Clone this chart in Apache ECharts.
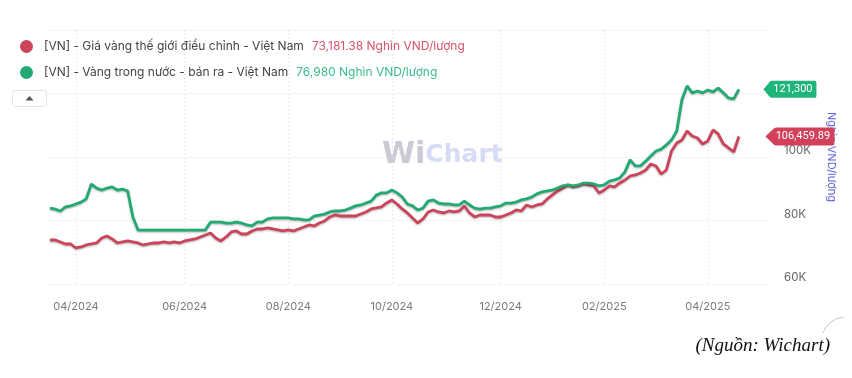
<!DOCTYPE html>
<html>
<head>
<meta charset="utf-8">
<script src="https://cdn.jsdelivr.net/npm/echarts@6/dist/echarts.min.js"></script>
<style>
  html, body { margin: 0; padding: 0; background: #fff; }
  #chart { width: 852px; height: 378px; }
</style>
</head>
<body>
<div id="chart"></div>
<script>
// one point every 3 days
const dates = [
  '2024-03-17','2024-03-20','2024-03-23','2024-03-26','2024-03-29','2024-04-01','2024-04-04','2024-04-07','2024-04-10','2024-04-13',
  '2024-04-16','2024-04-19','2024-04-22','2024-04-25','2024-04-28','2024-05-01','2024-05-04','2024-05-07','2024-05-10','2024-05-13',
  '2024-05-16','2024-05-19','2024-05-22','2024-05-25','2024-05-28','2024-05-31','2024-06-03','2024-06-06','2024-06-09','2024-06-12',
  '2024-06-15','2024-06-18','2024-06-21','2024-06-24','2024-06-27','2024-06-30','2024-07-03','2024-07-06','2024-07-09','2024-07-12',
  '2024-07-15','2024-07-18','2024-07-21','2024-07-24','2024-07-27','2024-07-30','2024-08-02','2024-08-05','2024-08-08','2024-08-11',
  '2024-08-14','2024-08-17','2024-08-20','2024-08-23','2024-08-26','2024-08-29','2024-09-01','2024-09-04','2024-09-07','2024-09-10',
  '2024-09-13','2024-09-16','2024-09-19','2024-09-22','2024-09-25','2024-09-28','2024-10-01','2024-10-04','2024-10-07','2024-10-10',
  '2024-10-13','2024-10-16','2024-10-19','2024-10-22','2024-10-25','2024-10-28','2024-10-31','2024-11-03','2024-11-06','2024-11-09',
  '2024-11-12','2024-11-15','2024-11-18','2024-11-21','2024-11-24','2024-11-27','2024-11-30','2024-12-03','2024-12-06','2024-12-09',
  '2024-12-12','2024-12-15','2024-12-18','2024-12-21','2024-12-24','2024-12-27','2024-12-30','2025-01-02','2025-01-05','2025-01-08',
  '2025-01-11','2025-01-14','2025-01-17','2025-01-20','2025-01-23','2025-01-26','2025-01-29','2025-02-01','2025-02-04','2025-02-07',
  '2025-02-10','2025-02-13','2025-02-16','2025-02-19','2025-02-22','2025-02-25','2025-02-28','2025-03-03','2025-03-06','2025-03-09',
  '2025-03-12','2025-03-15','2025-03-18','2025-03-21','2025-03-24','2025-03-27','2025-03-30','2025-04-02','2025-04-05','2025-04-08',
  '2025-04-11','2025-04-14','2025-04-17','2025-04-20','2025-04-23','2025-04-26','2025-04-29','2025-05-02','2025-05-05','2025-05-08'
];

// dates that carry an axis label / vertical grid line
const tickDates = ['2024-04-01', '2024-06-03', '2024-08-02', '2024-10-01', '2024-12-03', '2025-02-01', '2025-04-02'];

const worldName = '[VN] - Giá vàng thế giới điều chỉnh - Việt Nam';
const domesticName = '[VN] - Vàng trong nước - bán ra - Việt Nam';
const unit = 'Nghìn VND/lượng';
const legendValues = ['73,181.38', '76,980'];

const worldPrice = [
  73860, 73860, 73230, 72600, 72600, 71340, 71660, 72290, 72600, 72920,
  74490, 75120, 74180, 72920, 73230, 73550, 73230, 72920, 72290, 72600,
  72920, 72920, 73230, 72920, 73230, 72920, 73550, 73860, 74180, 74810,
  75440, 76070, 74490, 73550, 74810, 76380, 76700, 75750, 75750, 76700,
  77330, 77330, 77640, 77330, 77010, 76700, 77010, 76700, 77330, 77960,
  78590, 78270, 79220, 79850, 81110, 81740, 81420, 81420, 81420, 81420,
  82050, 82680, 83630, 83940, 84260, 85520, 86460, 85200, 83630, 82370,
  80790, 79220, 80480, 82680, 83310, 82680, 82370, 83000, 82680, 83000,
  84570, 82370, 81110, 81740, 81740, 81740, 81110, 81110, 81740, 82370,
  83310, 83000, 84890, 84260, 84890, 85200, 86780, 88040, 89300, 90240,
  91190, 90560, 90870, 91500, 91190, 90870, 88670, 89610, 90870, 90560,
  91820, 92760, 94020, 94340, 94970, 95910, 97800, 97170, 94650, 95910,
  101900, 104420, 105360, 108200, 106620, 105990, 104100, 105050, 108510, 107250,
  104100, 102840, 101580, 106459.89
];

const domesticPrice = [
  83900, 83600, 83000, 84300, 84600, 85200, 85800, 86800, 91500, 90200,
  89600, 90200, 90600, 89600, 89900, 89300, 81100, 77000, 76980, 76980,
  76980, 76980, 76980, 76980, 76980, 76980, 76980, 76980, 76980, 76980,
  76980, 79500, 79500, 79500, 79200, 79200, 79500, 79200, 78600, 78300,
  79500, 79500, 80500, 80800, 80800, 80800, 80800, 80500, 80500, 80200,
  80200, 81400, 81700, 82000, 82700, 83000, 83000, 83300, 83900, 84600,
  84900, 85500, 86100, 88000, 88700, 88700, 89600, 88700, 87400, 85200,
  84600, 83300, 83900, 86100, 86500, 85500, 85200, 85200, 84900, 84900,
  86100, 84900, 83900, 83600, 83900, 83900, 84300, 84600, 85500, 85500,
  85800, 86500, 86800, 87400, 88400, 89000, 89300, 89600, 90200, 90900,
  91200, 90900, 91200, 91800, 91800, 91500, 90900, 91200, 92400, 92800,
  93400, 95300, 99100, 97200, 97200, 98700, 100300, 101900, 102500, 103800,
  105400, 108200, 118000, 122400, 120200, 120800, 120200, 121100, 120500, 121700,
  120200, 118600, 118300, 121300
];

const RED = '#cc4459';
const GREEN = '#22a974';
const FONT = 'Inter, Roboto, sans-serif';

// price tag with a left pointing tip
const tagPath = 'path://M0,9L7,1.5Q8,0 10,0L60,0Q62,0 62,2L62,16Q62,18 60,18L10,18Q8,18 7,16.5Z';

const isTick = (idx, val) => tickDates.indexOf(val) !== -1;
const fmtNum = v => v.toLocaleString('en-US', { maximumFractionDigits: 2 });

function lastTag(values, color, size, offset, labelShift) {
  const i = values.length - 1;
  return {
    silent: true,
    symbol: tagPath,
    symbolSize: size,
    symbolKeepAspect: false,
    symbolOffset: [offset, 0],
    itemStyle: { color: color },
    label: {
      show: true,
      position: 'inside',
      offset: [labelShift, 0],
      color: '#fff',
      fontSize: 11,
      fontFamily: 'Roboto',
      formatter: p => fmtNum(p.value)
    },
    data: [{ coord: [i, values[i]], value: values[i] }]
  };
}

const chart = echarts.init(document.getElementById('chart'));

chart.setOption({
  animation: false,
  backgroundColor: '#fff',
  textStyle: { fontFamily: FONT },
  grid: { left: 50, right: 82, top: 30, bottom: 94 },
  legend: {
    orient: 'vertical',
    left: 15,
    top: 35,
    icon: 'circle',
    itemWidth: 13,
    itemHeight: 13,
    itemGap: 13,
    selectedMode: false,
    data: [worldName, domesticName],
    formatter: name => name === worldName
      ? '{n|' + name + '}{r|' + legendValues[0] + ' ' + unit + '}'
      : '{n|' + name + '}{g|' + legendValues[1] + ' ' + unit + '}',
    textStyle: {
      rich: {
        n: { color: '#444', fontSize: 12, fontFamily: FONT, padding: [0, 0, 0, 6] },
        r: { color: '#d9536a', fontSize: 12, fontFamily: FONT, padding: [0, 0, 0, 8] },
        g: { color: '#39bd86', fontSize: 12, fontFamily: FONT, padding: [0, 0, 0, 8] }
      }
    }
  },
  xAxis: {
    type: 'category',
    boundaryGap: false,
    data: dates,
    axisLine: { show: false },
    axisTick: { show: false },
    axisLabel: {
      interval: isTick,
      margin: 17,
      color: '#7a7a7a',
      fontSize: 11,
      formatter: v => v.slice(5, 7) + '/' + v.slice(0, 4)
    },
    splitLine: {
      show: true,
      interval: isTick,
      lineStyle: { color: '#d6d6d6', type: [1, 3] }
    }
  },
  yAxis: {
    type: 'value',
    position: 'right',
    min: 60000,
    max: 140000,
    interval: 20000,
    name: unit,
    nameLocation: 'middle',
    nameRotate: -90,
    nameGap: 56,
    nameTextStyle: { color: '#5d63d8', fontSize: 11 },
    axisLine: { show: false },
    axisTick: { show: false },
    axisLabel: {
      margin: 14,
      color: '#666',
      fontSize: 11.5,
      verticalAlign: 'bottom',
      formatter: v => v > 120000 ? '' : (v / 1000) + 'K'
    },
    splitLine: { lineStyle: { color: '#d6d6d6', type: [1, 3] } }
  },
  series: [
    {
      name: worldName,
      type: 'line',
      data: worldPrice,
      showSymbol: false,
      color: RED,
      lineStyle: { width: 2.8, color: RED, shadowColor: 'rgba(0,0,0,0.3)', shadowBlur: 2, shadowOffsetY: 1 },
      markPoint: lastTag(worldPrice, '#d2405a', [69, 18], 61, 3)
    },
    {
      name: domesticName,
      type: 'line',
      data: domesticPrice,
      showSymbol: false,
      color: GREEN,
      lineStyle: { width: 2.8, color: GREEN, shadowColor: 'rgba(0,0,0,0.3)', shadowBlur: 2, shadowOffsetY: 1 },
      markPoint: lastTag(domesticPrice, '#1fb47a', [53, 17], 51, 3)
    }
  ],
  graphic: [
    {
      type: 'text',
      left: 382,
      top: 140,
      z: -1,
      style: {
        text: '{w|Wi}{c|Chart}',
        rich: {
          w: { fontSize: 30, fontWeight: 'bold', fontFamily: 'DejaVu Sans', fill: '#c9cad3' },
          c: { fontSize: 25, fontWeight: 'bold', fontFamily: 'DejaVu Sans', fill: '#d7dcf6' }
        }
      }
    },
    {
      type: 'group',
      left: 12,
      top: 90,
      children: [
        { type: 'rect', shape: { x: 0, y: 0, width: 34, height: 16, r: 3 }, style: { fill: '#fff', stroke: '#e4e4e4' } },
        { type: 'polygon', shape: { points: [[13, 10], [21, 10], [17, 5.5]] }, style: { fill: '#555' } }
      ]
    },
    {
      type: 'arc',
      shape: { cx: 846, cy: 342, r: 25, startAngle: Math.PI * 1.12, endAngle: Math.PI * 1.47 },
      style: { stroke: '#c8c8c8', lineWidth: 1, fill: null }
    },
    {
      type: 'text',
      right: 22,
      top: 336,
      style: {
        text: '(Nguồn: Wichart)',
        fontFamily: 'Liberation Serif',
        fontStyle: 'italic',
        fontSize: 19,
        fill: '#111'
      }
    }
  ]
});
</script>
</body>
</html>
